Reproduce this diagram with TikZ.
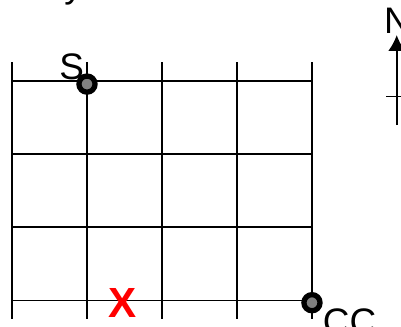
\documentclass[tikz,border=0pt]{standalone}
\usepackage{fontspec}
\setmainfont{Liberation Sans}
\usetikzlibrary{positioning, arrows.meta}
\begin{document}
\begin{tikzpicture}[x=2cm, y=1.95cm, font=\fontsize{28}{30}\selectfont,
    line/.style={line width=1.4pt},
    dot/.style={circle, draw, line width=4pt, fill=gray, minimum size=0.43cm, inner sep=0pt},
    xmark/.style={text=red, font=\fontsize{32}{34}\selectfont\bfseries}]
  \useasboundingbox (-0.16,-0.356) rectangle (5.187,4.11);
  % street grid
  \foreach \i in {0,...,4} \draw[line] (\i,3.26) -- (\i,-0.25);
  \foreach \j in {0,...,3} \draw[line] (0,\j) -- (4,\j);

  \node[dot] (s) at (1,2.96) {};   \node[above left=-6pt and -7pt of s.north west] (slbl) {S};
  \node[dot] (cc) at (4,-0.03) {}; \node[below right=-5pt and -1pt of cc.south east] (cclbl) {CC};
  \node[xmark] (x) at (1.48,-0.04) {X};
  \node[anchor=base] (y) at (0.82,4.14) {y};

  % compass
  \coordinate (base) at (5.13,2.40);
  \coordinate (tip) at (5.13,3.63);
  \coordinate (wl) at (4.99,2.79); \coordinate (wr) at (5.28,2.79);
  \draw[line, -{Latex[length=12pt,width=13pt]}] (base) -- (tip);
  \draw[line] (wl) -- (wr);
  \node (n) at (5.14,3.82) {N};
\end{tikzpicture}
\end{document}
